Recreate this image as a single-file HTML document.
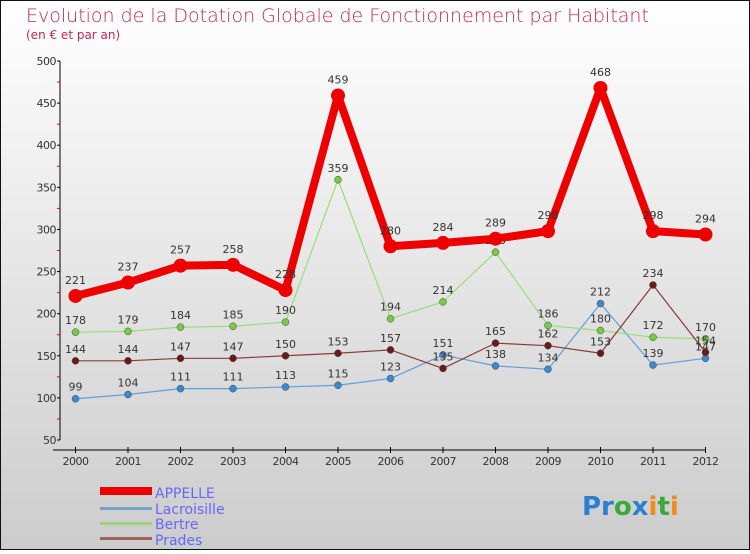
<!DOCTYPE html>
<html><head><meta charset="utf-8"><style>
html,body{margin:0;padding:0}
body{width:750px;height:550px;overflow:hidden;font-family:"DejaVu Sans","Liberation Sans",sans-serif}
svg text{font-family:"DejaVu Sans","Liberation Sans",sans-serif}
</style></head><body>
<svg width="750" height="550" viewBox="0 0 750 550">
<defs><linearGradient id="bg" x1="0" y1="0" x2="0" y2="1"><stop offset="0" stop-color="#ffffff"/><stop offset="1" stop-color="#cccccc"/></linearGradient></defs>
<rect x="0.5" y="0.5" width="749" height="549" fill="url(#bg)" stroke="#111"/>
<text x="26" y="22" font-size="19" fill="#c0285a" style="font-weight:200">Evolution de la Dotation Globale de Fonctionnement par Habitant</text>
<text x="26" y="39" font-size="12" fill="#c0285a">(en € et par an)</text>
<g id="axes"></g>
<g id="series"></g>
<g>
<rect x="100" y="487" width="52" height="8" fill="#e00"/>
<text x="155" y="498" font-size="14" fill="#6666ff">APPELLE</text>
<rect x="100" y="507" width="52" height="3" fill="#6fa3cc"/>
<text x="155" y="514" font-size="14" fill="#6666ff">Lacroisille</text>
<rect x="100" y="522" width="52" height="3" fill="#99d477"/>
<text x="155" y="529" font-size="14" fill="#6666ff">Bertre</text>
<rect x="100" y="537" width="52" height="3" fill="#a06060"/>
<text x="155" y="545" font-size="14" fill="#6666ff">Prades</text>
</g>
<text x="582" y="515" font-size="26" font-weight="bold"><tspan fill="#2a7fd0">Pr</tspan><tspan fill="#3aa83a">o</tspan><tspan fill="#2a7fd0">x</tspan><tspan fill="#f08a1a">i</tspan><tspan fill="#3aa83a">t</tspan><tspan fill="#f08a1a">i</tspan></text>
</svg>
<script>
const years=[2000,2001,2002,2003,2004,2005,2006,2007,2008,2009,2010,2011,2012];
const yTicks=[50,100,150,200,250,300,350,400,450,500];
const appelle=[221,237,257,258,228,459,280,284,289,298,468,298,294];
const lacroisille=[99,104,111,111,113,115,123,151,138,134,212,139,147];
const bertre=[178,179,184,185,190,359,194,214,273,186,180,172,170];
const prades=[144,144,147,147,150,153,157,135,165,162,153,234,154];
const NS="http://www.w3.org/2000/svg";
const xs=i=>75.5+i*(705.5-75.5)/(years.length-1);
const ys=v=>440-(v-50)*(379/450);
function mk(tag,attrs,parent){const e=document.createElementNS(NS,tag);for(const k in attrs)e.setAttribute(k,attrs[k]);parent.appendChild(e);return e;}
const ax=document.getElementById('axes');
let e=mk('line',{x1:60,y1:ys(500),x2:60,y2:ys(50),stroke:'#000'},ax);


e=mk('line',{x1:53,y1:450,x2:706,y2:450,stroke:'#000'},ax);


yTicks.forEach(v=>{
 mk('line',{x1:57,y1:ys(v),x2:60,y2:ys(v),stroke:'#000'},ax);
 if(v<500){mk('line',{x1:57,y1:ys(v+25),x2:60,y2:ys(v+25),stroke:'#e00'},ax);}
 const t=mk('text',{x:56,y:ys(v)+4,'font-size':11,'text-anchor':'end',fill:'#333','letter-spacing':'-0.5'},ax);
 t.textContent=v;
 
 
});
years.forEach((y,i)=>{
 mk('line',{x1:xs(i),y1:447,x2:xs(i),y2:453,stroke:'#000'},ax);
 const t=mk('text',{x:xs(i),y:465,'font-size':11,'text-anchor':'middle',fill:'#333','letter-spacing':'-0.5'},ax);
 t.textContent=y;
 
 
});
const sg=document.getElementById('series');
function draw(name,data,color,dot,w,r){
 const g=mk('g',{},sg);
 
 
 const p=mk('polyline',{points:data.map((v,i)=>xs(i)+','+ys(v)).join(' '),fill:'none',stroke:color,'stroke-width':w,'stroke-linejoin':'round'},g);
 
 
 data.forEach((v,i)=>{
  const c=mk('circle',{cx:xs(i),cy:ys(v),r:r,fill:dot,stroke:w>3?'none':'#444','stroke-width':0.5},g);
  
  
  const t=mk('text',{x:xs(i),y:ys(v)-(w>3?12:8),'font-size':11,'text-anchor':'middle',fill:'#333'},g);
  t.textContent=v;
  
  
 });
}
draw('lacroisille',lacroisille,'#5fa0d8','#3a8ad0',1.2,3.5);
draw('bertre',bertre,'#99dd77','#77cc44',1.2,3.5);
draw('prades',prades,'#8a3a3a','#6a1a1a',1.2,3.5);
draw('appelle',appelle,'#ee0000','#ee0000',8,7);
</script>
</body></html>
